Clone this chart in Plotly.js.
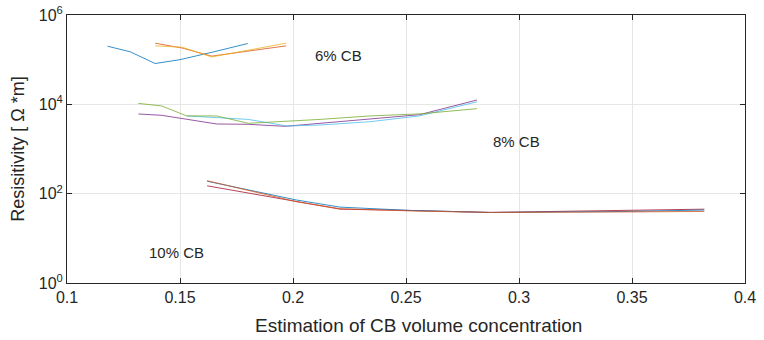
<!DOCTYPE html>
<html><head><meta charset="utf-8">
<script src="https://cdn.plot.ly/plotly-3.0.1.min.js"></script>
<style>html,body{margin:0;padding:0;background:#fff}</style>
</head><body><div id="c" style="width:764px;height:340px"></div>
<script>
// 6% CB
const x6a = [0.118, 0.128, 0.139, 0.150, 0.165, 0.180];
const y6a = [200000, 150000, 82000, 100000, 150000, 230000];
const x6b = [0.139, 0.151, 0.164, 0.197];
const y6b = [234000, 182000, 120000, 204000];
const y6c = [204000, 190000, 115000, 234000];
// 8% CB
const x8 = [0.1316, 0.1419, 0.153, 0.1662, 0.1802, 0.1898, 0.212, 0.234, 0.256, 0.2814];
const y8green = [10500, 9200, 5500, 5500, 3760, 3960, 4600, 5500, 6100, 8000];
const x8cyan = [0.153, 0.1662, 0.1802, 0.1898, 0.1974, 0.212, 0.234, 0.256, 0.2814];
const y8cyan = [5500, 5100, 4600, 3800, 3270, 3440, 4080, 5500, 11400];
const x8purple = [0.1316, 0.1419, 0.1662, 0.1802, 0.1966, 0.212, 0.234, 0.256, 0.2814];
const y8purple = [6080, 5680, 3630, 3570, 3220, 3760, 4860, 5860, 12500];
// 10% CB
const x10 = [0.162, 0.2016, 0.2208, 0.2525, 0.2872, 0.3155, 0.3478, 0.382];
const y10blue = [190, 72, 50, 42, 38, 39, 40, 43];
const y10orange = [195, 66, 46, 41, 38, 38, 39, 40];
const y10red = [150, 66, 45, 42, 38, 40, 43, 45];

const yTickVals = [1, 100, 10000, 1000000];
const yTickText = ['10<sup>0</sup>', '10<sup>2</sup>', '10<sup>4</sup>', '10<sup>6</sup>'];
const xTitle = 'Estimation of CB volume concentration';
const yTitle = 'Resisitivity [ Ω *m]';

const C = {blue:'#0072BD', orange:'#D95319', yellow:'#EDB120', purple:'#7E2F8E', green:'#77AC30', cyan:'#4DBEEE', red:'#A2142F'};
function tr(x, y, c){ return {x:x, y:y, type:'scatter', mode:'lines', line:{color:c, width:0.8}, hoverinfo:'skip'}; }

const data = [
  tr(x6a, y6a, C.blue),
  tr(x6b, y6b, C.orange),
  tr(x6b, y6c, C.yellow),
  tr(x8purple, y8purple, C.purple),
  tr(x8cyan, y8cyan, C.cyan),
  tr(x8, y8green, C.green),
  tr(x10, y10red, C.red),
  tr(x10, y10blue, C.blue),
  tr(x10, y10orange, C.orange)
];

const fnt = {family:'Liberation Sans, Arial, sans-serif', color:'#262626'};
const F = s => Object.assign({size:s}, fnt);
const layout = {
  width:764, height:340,
  margin:{l:67, r:19, t:15, b:57},
  showlegend:false,
  paper_bgcolor:'#fff', plot_bgcolor:'#fff',
  font:F(15),
  xaxis:{range:[0.1,0.4], dtick:0.05, tick0:0.1, ticks:'inside', ticklen:5, tickcolor:'#262626',
    showline:true, linecolor:'#262626', linewidth:1, mirror:'ticks', showgrid:true, gridcolor:'#e6e6e6',
    zeroline:false, tickfont:F(16)},
  yaxis:{type:'log', range:[0,6], tickvals:yTickVals, ticktext:yTickText, ticks:'inside', ticklen:5, tickcolor:'#262626',
    showline:true, linecolor:'#262626', linewidth:1, mirror:'ticks', showgrid:true, gridcolor:'#e6e6e6',
    zeroline:false, tickfont:F(16),
    title:{text:yTitle, font:F(18), standoff:9}},
  annotations:[
    {x:0.519, y:-0.157, xref:'paper', yref:'paper', text:xTitle, showarrow:false, xanchor:'center', yanchor:'middle', font:F(19)},
    {x:0.2088, y:5.10, xref:'x', yref:'y', text:'6% CB', showarrow:false, xanchor:'left', font:F(15)},
    {x:0.2876, y:3.157, xref:'x', yref:'y', text:'8% CB', showarrow:false, xanchor:'left', font:F(15)},
    {x:0.1354, y:0.694, xref:'x', yref:'y', text:'10% CB', showarrow:false, xanchor:'left', font:F(15)}
  ]
};
Plotly.newPlot('c', data, layout, {displayModeBar:false, staticPlot:true});
</script></body></html>
